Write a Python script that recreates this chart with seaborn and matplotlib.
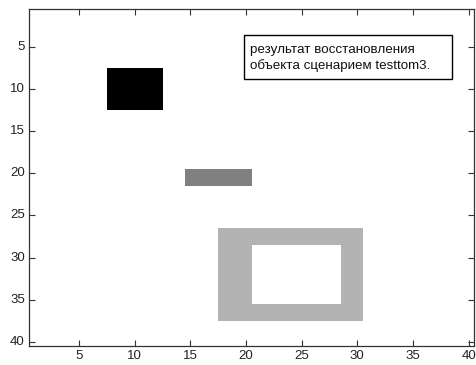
import numpy as np
import matplotlib
matplotlib.use("Agg")
import matplotlib.pyplot as plt
from matplotlib.patches import Rectangle
import seaborn as sns

# Image values (1-based row/col ranges, MATLAB-style), grayscale levels
n = 40
background = 1.0
black_rows, black_cols, black_val = (8, 12), (8, 12), 0.0
bar_rows, bar_cols, bar_val = (20, 21), (15, 20), 0.5
frame_rows, frame_cols, frame_val = (27, 37), (18, 30), 0.70
hole_rows, hole_cols, hole_val = (29, 35), (21, 28), 1.0
tick_labels = [5, 10, 15, 20, 25, 30, 35, 40]
note = "результат восстановления\nобъекта сценарием testtom3."

img = np.full((n, n), background)
for (r, c, v) in [(black_rows, black_cols, black_val), (bar_rows, bar_cols, bar_val),
                  (frame_rows, frame_cols, frame_val), (hole_rows, hole_cols, hole_val)]:
    img[r[0]-1:r[1], c[0]-1:c[1]] = v

sns.set_style("white")
plt.rcParams['font.family'] = ['Liberation Sans', 'DejaVu Sans']

fig = plt.figure(figsize=(4.77, 3.65), dpi=100)
ax = fig.add_axes([0.061, 0.052, 0.933, 0.923])
sns.heatmap(img, cmap="gray", vmin=0, vmax=1, cbar=False, ax=ax)
ax.set_axisbelow(False)

pos = [t - 0.5 for t in tick_labels]
ax.set_xticks(pos)
ax.set_xticklabels([str(t) for t in tick_labels], rotation=0)
ax.set_yticks(pos)
ax.set_yticklabels([str(t) for t in tick_labels], rotation=0)
ax.tick_params(direction="in", length=4, width=0.8, color="#333333", labelsize=9.5,
               labelcolor="#222222", top=True, right=True, bottom=True, left=True, pad=3)
for s in ax.spines.values():
    s.set_visible(True)
    s.set_color("#333333")
    s.set_linewidth(0.9)
    s.set_zorder(5)

ax.add_patch(Rectangle((0.483, 0.792), 0.468, 0.131, transform=ax.transAxes,
                       fc="white", ec="black", lw=1.0, zorder=6))
ax.text(0.497, 0.896, note, transform=ax.transAxes, fontsize=9.6, va="top", ha="left",
        linespacing=1.3, color="#111111", zorder=7)

fig.savefig("out.png", dpi=100)
